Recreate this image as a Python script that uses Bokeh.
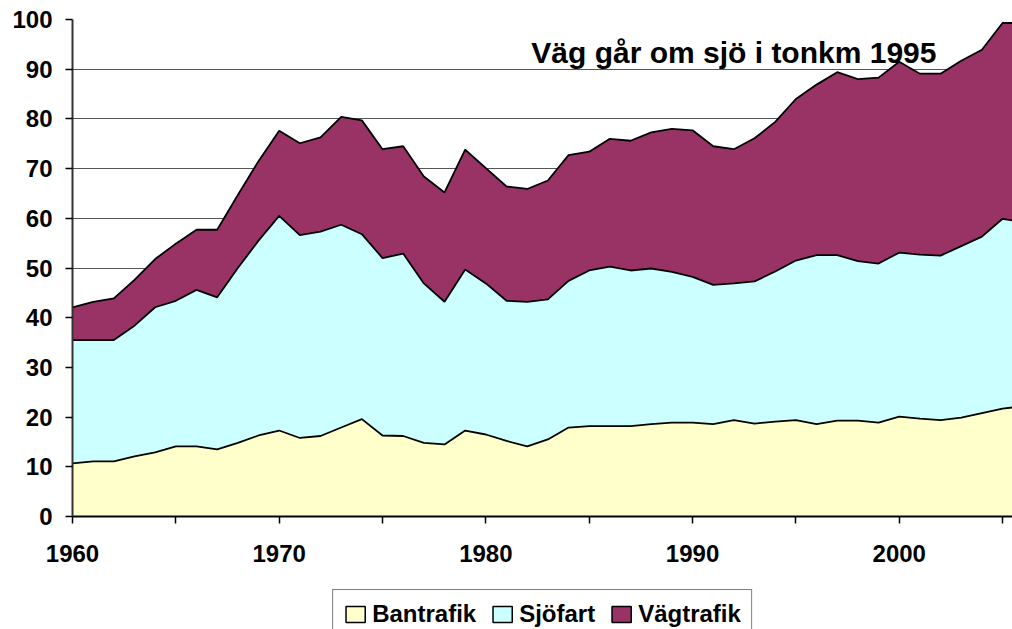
from bokeh.plotting import figure
from bokeh.layouts import column
from bokeh.models import (ColumnDataSource, Range1d, FixedTicker, Legend, LegendItem, Label)
from bokeh.transform import stack
from bokeh.embed import file_html
from bokeh.resources import INLINE

# ---- data ----
years = list(range(1960, 2007))
bantrafik = [10.7, 11.1, 11.1, 12.1, 12.9, 14.1, 14.1, 13.5, 14.8, 16.3,
             17.3, 15.8, 16.2, 17.9, 19.6, 16.3, 16.2, 14.8, 14.5, 17.3,
             16.5, 15.2, 14.1, 15.5, 17.9, 18.2, 18.2, 18.2, 18.6, 18.9,
             18.9, 18.6, 19.4, 18.7, 19.1, 19.4, 18.6, 19.3, 19.3, 18.9,
             20.1, 19.7, 19.4, 19.9, 20.8, 21.7, 22.2]
sjofart = [24.8, 24.4, 24.4, 26.3, 29.2, 29.3, 31.5, 30.6, 35.2, 39.2,
           43.2, 40.8, 41.1, 40.8, 37.2, 35.7, 36.7, 32.1, 28.7, 32.4,
           30.4, 28.2, 29.1, 28.2, 29.5, 31.3, 32.1, 31.3, 31.3, 30.3,
           29.3, 28.0, 27.5, 28.6, 30.2, 32.1, 34.0, 33.3, 32.1, 32.0,
           33.0, 33.0, 33.1, 34.5, 35.5, 38.2, 37.0]
vagtrafik = [6.6, 7.7, 8.4, 9.2, 9.7, 11.5, 12.1, 13.6, 14.7, 16.0,
             17.1, 18.5, 19.0, 21.7, 22.9, 21.9, 21.6, 21.5, 22.0, 24.1,
             23.2, 23.0, 22.7, 23.9, 25.3, 23.9, 25.7, 26.1, 27.4, 28.8,
             29.5, 27.9, 27.0, 28.8, 30.1, 32.5, 34.3, 36.8, 36.6, 37.4,
             38.4, 36.4, 36.6, 37.3, 37.6, 39.4, 40.1]
series = ["Bantrafik", "Sjöfart", "Vägtrafik"]
colors = ["#FFFFCC", "#CCFFFF", "#993366"]
y_ticks = list(range(0, 101, 10))
x_major = list(range(1960, 2001, 10))
x_minor = list(range(1965, 2006, 10))
title_text = "Väg går om sjö i tonkm 1995"

FONT = "Liberation Sans"

source = ColumnDataSource(data={"year": years, "Bantrafik": bantrafik,
                                "Sjöfart": sjofart, "Vägtrafik": vagtrafik})

p = figure(width=1012, height=589, output_backend="svg", toolbar_location=None,
           x_range=Range1d(1960, 2005.48), y_range=Range1d(0, 100),
           min_border_left=72, min_border_right=0, min_border_top=19,
           min_border_bottom=73)
p.outline_line_color = None
p.background_fill_color = "white"
p.border_fill_color = "white"

p.varea_stack(stackers=series, x="year", color=colors, source=source)
for i in range(len(series)):
    p.line(x="year", y=stack(*series[:i + 1]), source=source,
           line_color="black", line_width=1.8)

# axes
p.xgrid.visible = False
p.ygrid.ticker = FixedTicker(ticks=y_ticks[1:])
p.ygrid.grid_line_color = "#555555"
p.ygrid.grid_line_width = 1

p.yaxis.ticker = FixedTicker(ticks=y_ticks)
p.xaxis.ticker = FixedTicker(ticks=x_major, minor_ticks=x_minor)
for ax in (p.xaxis[0], p.yaxis[0]):
    ax.major_label_text_font = FONT
    ax.major_label_text_font_style = "bold"
    ax.major_label_text_font_size = "24px"
    ax.major_label_text_color = "black"
    ax.axis_line_color = "black"
    ax.axis_line_width = 2
    ax.major_tick_line_color = "black"
    ax.major_tick_line_width = 1.5
    ax.major_tick_in = 0
    ax.major_tick_out = 7
ax = p.yaxis[0]
ax.minor_tick_line_color = None
ax.major_label_standoff = 13
ax.axis_line_color = "#333333"
ax = p.xaxis[0]
ax.minor_tick_in = 0
ax.minor_tick_out = 7
ax.minor_tick_line_color = "black"
ax.minor_tick_line_width = 1.5
ax.major_label_standoff = 21

# title inside plot
p.add_layout(Label(x=1992.0, y=93.4, text=title_text, text_align="center",
                   text_baseline="alphabetic", text_font=FONT,
                   text_font_style="bold", text_font_size="30px",
                   text_color="black"))

# ---- legend strip (separate small figure below the chart) ----
lg = figure(width=1012, height=40, output_backend="svg", toolbar_location=None,
            x_range=Range1d(0, 1), y_range=Range1d(0, 1),
            min_border_left=72, min_border_right=0, min_border_top=0,
            min_border_bottom=0)
lg.axis.visible = False
lg.grid.visible = False
lg.outline_line_color = None
lg.border_fill_color = "white"
proxy = ColumnDataSource(data={"x": [float("nan")], "y": [float("nan")]})
items = []
for name, col in zip(series, colors):
    r = lg.rect(x="x", y="y", width=1, height=1, source=proxy, fill_color=col,
                line_color="black", line_width=1.5)
    items.append(LegendItem(label=name, renderers=[r]))
legend = Legend(items=items, orientation="horizontal", location="top_center",
                label_text_font=FONT, label_text_font_style="bold",
                label_text_font_size="24px", label_text_color="black",
                glyph_width=24, glyph_height=20, label_standoff=5,
                spacing=14, padding=10, margin=0,
                border_line_color="black", border_line_width=1.2,
                background_fill_color="white", background_fill_alpha=1)
lg.add_layout(legend, "center")

layout = column(p, lg, spacing=0)
open("out.html", "w").write(file_html(layout, INLINE))
